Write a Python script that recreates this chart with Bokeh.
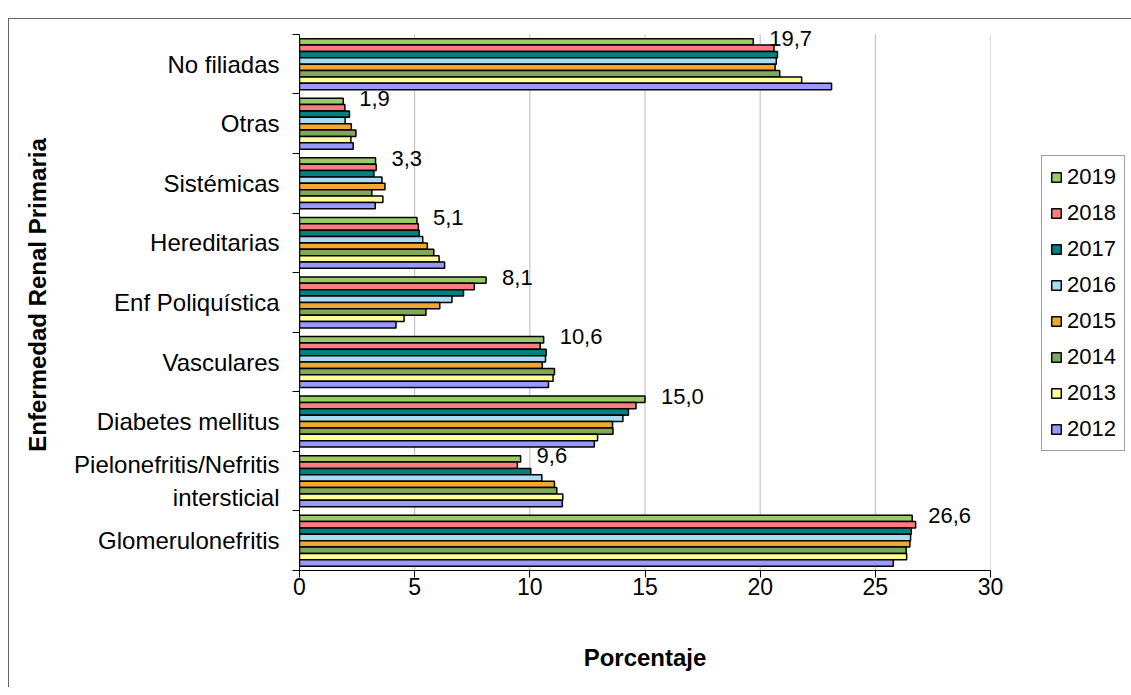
from bokeh.plotting import figure
from bokeh.models import (ColumnDataSource, Range1d, FixedTicker, Legend, LegendItem, LabelSet)
from bokeh.core.properties import value
from bokeh.embed import file_html
from bokeh.resources import INLINE

# ---------------- data ----------------
categorias = ["No filiadas", "Otras", "Sistémicas", "Hereditarias", "Enf Poliquística",
              "Vasculares", "Diabetes mellitus", "Pielonefritis/Nefritis\nintersticial",
              "Glomerulonefritis"]
anios = ["2019", "2018", "2017", "2016", "2015", "2014", "2013", "2012"]

v2019 = [19.7, 1.9, 3.3, 5.1, 8.1, 10.6, 15.0, 9.6, 26.6]
v2018 = [20.6, 1.97, 3.33, 5.16, 7.59, 10.45, 14.61, 9.46, 26.75]
v2017 = [20.75, 2.17, 3.23, 5.2, 7.12, 10.71, 14.28, 10.04, 26.56]
v2016 = [20.7, 1.98, 3.58, 5.35, 6.62, 10.68, 14.04, 10.52, 26.53]
v2015 = [20.65, 2.25, 3.71, 5.55, 6.09, 10.54, 13.59, 11.07, 26.5]
v2014 = [20.85, 2.45, 3.14, 5.83, 5.49, 11.07, 13.61, 11.17, 26.34]
v2013 = [21.8, 2.23, 3.62, 6.06, 4.54, 11.01, 12.94, 11.43, 26.36]
v2012 = [23.1, 2.33, 3.29, 6.3, 4.19, 10.81, 12.8, 11.41, 25.78]
series = [v2019, v2018, v2017, v2016, v2015, v2014, v2013, v2012]

colores = ["#99CC66", "#FF7C80", "#008080", "#A9DCF2", "#F0A830", "#80A858", "#FFFF99", "#9999FF"]
x_ticks = [0, 5, 10, 15, 20, 25, 30]

FONT = "Liberation Sans"
n_cat = len(categorias)
centros = [n_cat - k - 0.5 for k in range(n_cat)]
bar_h = 0.107
top_pad = 0.25  # headroom above the top category so the first data label is not clipped

p = figure(frame_width=691, frame_height=551, min_border_left=299, min_border_right=133,
           min_border_top=19, min_border_bottom=117,
           x_range=Range1d(0, 30), y_range=Range1d(0, n_cat + top_pad),
           output_backend="svg", toolbar_location=None)
p.outline_line_color = None
p.background_fill_color = "white"
p.border_fill_color = None
p.styles = {
    "background": "linear-gradient(#666666,#666666) 8px 18px / calc(100% - 8px) 1px no-repeat, "
                  "linear-gradient(#666666,#666666) 8px 18px / 1px calc(100% - 18px) no-repeat, white"
}

# vertical gridlines (limited to the category area)
p.segment(x0=x_ticks[1:], y0=0, x1=x_ticks[1:], y1=n_cat, line_color="#B8B8B8", line_width=1)

items = []
for i, (anio, vals, col) in enumerate(zip(anios, series, colores)):
    off = (3.5 - i) * bar_h
    src = ColumnDataSource(dict(y=[c + off for c in centros], right=vals))
    r = p.hbar(y="y", left=0, right="right", height=bar_h, source=src,
               fill_color=col, line_color="black", line_width=1.5)
    items.append(LegendItem(label=anio, renderers=[r]))

# data labels for 2019
lab_src = ColumnDataSource(dict(x=v2019, y=[c + 3.5 * bar_h for c in centros],
                                t=[f"{v:.1f}".replace(".", ",") for v in v2019]))
p.add_layout(LabelSet(x="x", y="y", text="t", source=lab_src, x_offset=16, y_offset=3,
                      text_font=value(FONT), text_font_size="22px", text_color="black",
                      text_align="left", text_baseline="middle"))

# x axis
p.xaxis.ticker = FixedTicker(ticks=x_ticks)
p.xaxis.axis_label = "Porcentaje"
p.xaxis.axis_label_text_font = FONT
p.xaxis.axis_label_text_font_style = "bold"
p.xaxis.axis_label_text_font_size = "24px"
p.xaxis.axis_label_text_color = "black"
p.xaxis.axis_label_standoff = 46
p.xaxis.major_label_text_font = FONT
p.xaxis.major_label_text_font_size = "23px"
p.xaxis.major_label_text_color = "black"
p.xaxis.major_tick_out = 7
p.xaxis.major_tick_in = 0
p.xaxis.minor_tick_line_color = None
p.xaxis.axis_line_color = "black"
p.xaxis.major_tick_line_color = "black"
p.xaxis.major_label_standoff = 0

# y axis
p.yaxis.ticker = FixedTicker(ticks=centros, minor_ticks=list(range(n_cat + 1)))
p.yaxis.bounds = (0, n_cat)
p.yaxis.major_label_overrides = {c: n for c, n in zip(centros, categorias)}
p.yaxis.axis_label = "Enfermedad Renal Primaria"
p.yaxis.axis_label_text_font = FONT
p.yaxis.axis_label_text_font_style = "bold"
p.yaxis.axis_label_text_font_size = "24px"
p.yaxis.axis_label_text_color = "black"
p.yaxis.axis_label_standoff = 20
p.yaxis.major_label_text_font = FONT
p.yaxis.major_label_text_font_size = "24px"
p.yaxis.major_label_text_color = "black"
p.yaxis.major_tick_line_color = None
p.yaxis.major_tick_out = 7
p.yaxis.minor_tick_out = 7
p.yaxis.minor_tick_in = 0
p.yaxis.minor_tick_line_color = "black"
p.yaxis.axis_line_color = "black"
p.yaxis.major_label_standoff = 13

p.xgrid.grid_line_color = None
p.ygrid.grid_line_color = None

legend = Legend(items=items, location=(51, 119), orientation="vertical",
                label_text_font=FONT, label_text_font_size="22px", label_text_color="black",
                glyph_width=12, glyph_height=12, label_height=20, label_standoff=5,
                spacing=10, padding=8, margin=0,
                border_line_color="#404040", border_line_width=1,
                background_fill_color="white", background_fill_alpha=1)
p.add_layout(legend, "right")

open("out.html", "w").write(file_html(p, INLINE))
